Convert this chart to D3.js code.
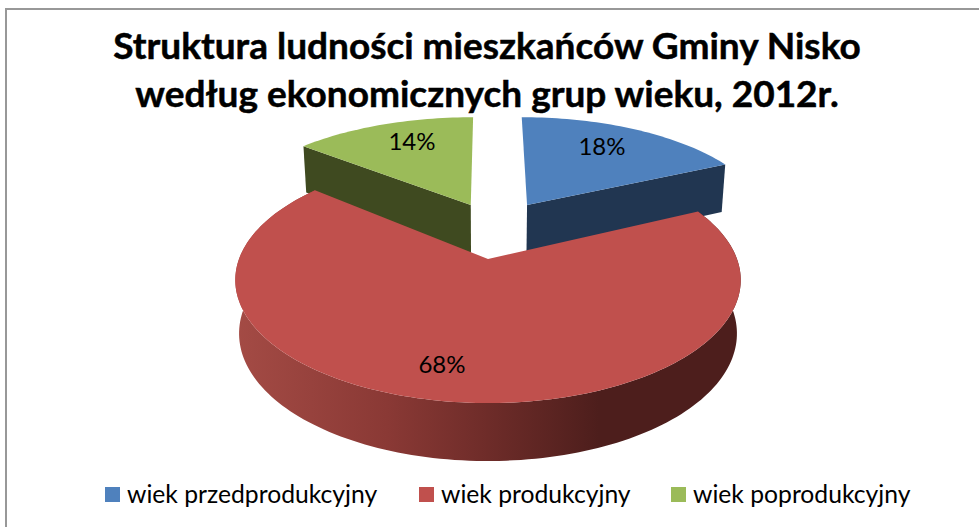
<!DOCTYPE html>
<html>
<head>
<meta charset="utf-8">
<script src="https://cdn.jsdelivr.net/npm/d3@7"></script>
<style>
  html, body { margin: 0; padding: 0; background: #fff; }
  svg { display: block; font-family: Lato, "Open Sans", sans-serif; }
</style>
</head>
<body>
<svg id="chart" width="979" height="527"></svg>
<script>
var titleLines = ["Struktura ludności mieszkańców Gminy Nisko", "według ekonomicznych grup wieku, 2012r."];
var categories = ["wiek przedprodukcyjny", "wiek produkcyjny", "wiek poprodukcyjny"];
var values = [18, 68, 14];
var topColors = ["#4f81bd", "#c0504d", "#9bbb59"];
var wallColors = ["#213651", "#c0504d", "#3f4a20"];
// how far each slice is pulled out of the pie, in units of the radius
var explodeU = [0.17, 0, -0.075];
var explodeV = [-0.49, 0, -0.49];
// pulled out slices look a little wider than the big one
var widen = [1.03, 1, 1.05];

var WIDTH = 979, HEIGHT = 527;
var CX = 488, CY = 259, RX = 249, RY = 119.4, PERSPECTIVE = -0.171, DEPTH = 47, DEPTH_NEAR = 11;

var svg = d3.select("#chart");

// border of the chart area, only left and top are inside the picture
svg.append("rect")
  .attr("x", 6).attr("y", 9)
  .attr("width", WIDTH + 10).attr("height", HEIGHT + 10)
  .attr("fill", "#fff").attr("stroke", "#989898").attr("stroke-width", 2);

var defs = svg.append("defs");
var wallGrad = defs.append("linearGradient").attr("id", "redWall");
[[0, "#a44b45"], [0.3, "#8a3935"], [0.5, "#6e2c29"], [0.72, "#4d1e1c"], [1, "#4d1e1c"]].forEach(function(s) {
  wallGrad.append("stop").attr("offset", s[0]).attr("stop-color", s[1]);
});

// flat circle to screen, with the far side squeezed
function project(u, v, down) {
  var w = 1 + PERSPECTIVE * v;
  var x = RX * u / w;
  var y = RY * v / w;
  if (down) {
    x *= 0.985;
    y += DEPTH + DEPTH_NEAR * (v + 1) / 2;
  }
  return [CX + x, CY + y];
}

var pie = d3.pie().sort(null).value(function(d) { return d; });
var slices = pie(values);

var line = d3.line().curve(d3.curveLinear);

function rimPoint(i, angle, down) {
  return project(explodeU[i] + widen[i] * Math.sin(angle), explodeV[i] - Math.cos(angle), down);
}

function arcPoints(d, i, down) {
  var n = Math.ceil((d.endAngle - d.startAngle) * 40);
  return d3.range(n + 1).map(function(k) {
    return rimPoint(i, d.startAngle + (d.endAngle - d.startAngle) * k / n, down);
  });
}

function apex(i, down) {
  return project(explodeU[i], explodeV[i], down);
}

var pieLayer = svg.append("g");

// walls of the two pulled out slices: only the cut edge faces the viewer
function cutWall(i, angle) {
  pieLayer.append("path")
    .attr("d", line([apex(i, false), rimPoint(i, angle, false), rimPoint(i, angle, true), apex(i, true)]) + "Z")
    .attr("fill", wallColors[i]);
}
cutWall(0, slices[0].endAngle);
cutWall(2, slices[2].startAngle);

[0, 2].forEach(function(i) {
  pieLayer.append("path")
    .attr("d", line([apex(i, false)].concat(arcPoints(slices[i], i, false))) + "Z")
    .attr("fill", topColors[i]);
});

// big slice, outer wall first and then the top on it
var redTop = arcPoints(slices[1], 1, false);
var redBottom = arcPoints(slices[1], 1, true).reverse();
pieLayer.append("path")
  .attr("d", line(redTop.concat(redBottom)) + "Z")
  .attr("fill", "url(#redWall)");
pieLayer.append("path")
  .attr("d", line([apex(1, false)].concat(redTop)) + "Z")
  .attr("fill", topColors[1]);

// percent labels
var labelPos = [[602, 147], [442, 365], [412, 142]];
svg.selectAll("text.pct")
  .data(values)
  .enter().append("text")
  .attr("class", "pct")
  .attr("x", function(d, i) { return labelPos[i][0]; })
  .attr("y", function(d, i) { return labelPos[i][1]; })
  .attr("dy", "0.35em")
  .attr("text-anchor", "middle")
  .attr("font-size", 24)
  .attr("fill", "#000")
  .text(function(d) { return d + "%"; });

// title, the stroke thickens Lato bold to the weight of the original
svg.selectAll("text.title")
  .data(titleLines)
  .enter().append("text")
  .attr("class", "title")
  .attr("x", 487)
  .attr("y", function(d, i) { return 59 + i * 48; })
  .attr("text-anchor", "middle")
  .attr("font-size", 37)
  .attr("font-weight", "bold")
  .attr("fill", "#000")
  .attr("stroke", "#000")
  .attr("stroke-width", 0.5)
  .text(function(d) { return d; });

// legend
var legendX = [105, 419, 671];
var legend = svg.selectAll("g.legend")
  .data(categories)
  .enter().append("g")
  .attr("class", "legend")
  .attr("transform", function(d, i) { return "translate(" + legendX[i] + ",487)"; });
legend.append("rect")
  .attr("width", 15).attr("height", 15)
  .attr("fill", function(d, i) { return topColors[i]; });
legend.append("text")
  .attr("x", 22).attr("y", 7)
  .attr("dy", "0.35em")
  .attr("font-size", 24.7)
  .attr("fill", "#000")
  .text(function(d) { return d; });
</script>
</body>
</html>
